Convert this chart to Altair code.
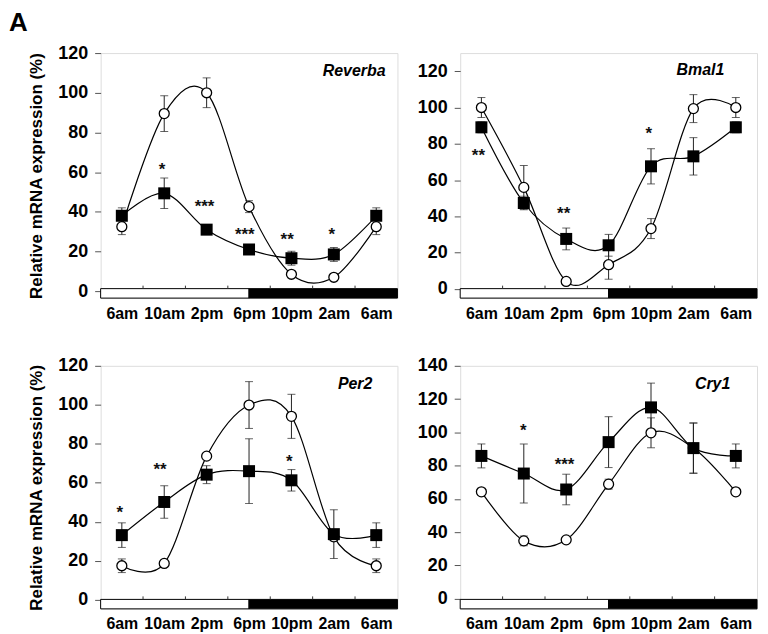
import json
import altair as alt
import pandas as pd

FONT = "Liberation Sans"

times = ["6am", "10am", "2pm", "6pm", "10pm", "2am", "6am"]
genes = ["Reverba", "Bmal1", "Per2", "Cry1"]

# open circles / filled squares, mean and error
reverba_open = [32.5, 89.5, 100, 42.6, 8.5, 7, 32.5]
reverba_open_err = [4, 9, 7.5, 3, 1, 1, 4]
reverba_fill = [38, 49.3, 31, 21, 16.6, 18.5, 38]
reverba_fill_err = [4, 7.7, 1.5, 2, 3.5, 3.5, 4]

bmal1_open = [100, 56, 4.2, 13.4, 33.3, 99.4, 100]
bmal1_open_err = [5.5, 12, 1, 8, 5.5, 7.7, 5.5]
bmal1_fill = [89.1, 47.4, 27.6, 24.1, 67.6, 73.1, 89.1]
bmal1_fill_err = [3, 3.7, 6, 6, 9.7, 10.3, 3]

per2_open = [17.5, 18.7, 73.7, 99.9, 94.1, 32.3, 17.5]
per2_open_err = [3.5, 1, 1, 12, 11.3, 2, 3.5]
per2_fill = [33.2, 50.2, 64.2, 66, 61.3, 33.7, 33.2]
per2_fill_err = [6.3, 8.3, 4.6, 16.6, 5.5, 12.5, 6.3]

cry1_open = [64.2, 34.7, 35.3, 68.8, 99.7, 90.5, 64.2]
cry1_open_err = [1, 3, 1, 3, 9, 15, 1]
cry1_fill = [85.8, 75.2, 65.6, 94.1, 115, 90.5, 85.8]
cry1_fill_err = [7.2, 17.7, 9.2, 15.3, 14.6, 15.2, 7.2]

# significance marks (label, time position, value)
reverba_sig = ["*", "***", "***", "**", "*"]
reverba_sig_x = [1.45, 2.45, 3.4, 4.4, 5.45]
reverba_sig_y = [63, 44.6, 30.5, 27.6, 30.5]
bmal1_sig = ["**", "**", "*"]
bmal1_sig_x = [0.43, 2.44, 4.45]
bmal1_sig_y = [75.3, 43.5, 87.8]
per2_sig = ["*", "**", "*"]
per2_sig_x = [0.45, 1.4, 4.45]
per2_sig_y = [46.8, 68.6, 72.7]
cry1_sig = ["*", "***"]
cry1_sig_x = [1.49, 2.46]
cry1_sig_y = [103, 82.8]

# light / dark phases along the time axis
phase_start = [0, 3.5]
phase_end = [3.5, 7]
phase_fill = ["white", "black"]

y_ticks_120 = [0, 20, 40, 60, 80, 100, 120]
y_ticks_140 = [0, 20, 40, 60, 80, 100, 120, 140]

W = 298


def panel(gene, ov, oe, fv, fe, sig, sx, sy, ymin, ymax, yticks, H, gx, gy, left, letter=False):
    pos = [i + 0.5 for i in range(len(times))]
    rows = []
    for i in range(len(times)):
        rows.append(dict(t=pos[i], s="open", v=ov[i], lo=ov[i] - oe[i], hi=ov[i] + oe[i]))
        rows.append(dict(t=pos[i], s="fill", v=fv[i], lo=fv[i] - fe[i], hi=fv[i] + fe[i]))
    df = pd.DataFrame(rows)
    per_px = (ymax - ymin) / H
    bar_top = ymin + 9.5 * per_px
    bar = pd.DataFrame(dict(x0=phase_start, x1=phase_end, f=phase_fill,
                            b0=[ymin, ymin], b1=[bar_top, bar_top]))
    tk = pd.DataFrame(dict(x=[1, 2, 3, 4, 5, 6], y0=[bar_top] * 6, y1=[bar_top + 3 * per_px] * 6))
    stars = pd.DataFrame(dict(x=sx, y=sy, s=sig))
    gdf = pd.DataFrame(dict(x=[gx], y=[gy], g=[gene]))

    xs = alt.Scale(domain=[0, 7], nice=False, zero=False)
    ys = alt.Scale(domain=[ymin, ymax], nice=False, zero=False)
    label_expr = "%s[floor(datum.value)]" % json.dumps(times)
    xaxis = alt.Axis(values=pos, labelExpr=label_expr, ticks=False, tickSize=0, domain=False,
                     grid=False, labelPadding=7, labelFontSize=16, labelFontWeight="bold",
                     labelFont=FONT, labelColor="black")
    yargs = dict(values=yticks, grid=False, domain=False, tickColor="#555", tickSize=6,
                 labelPadding=7, labelFontSize=18, labelFontWeight="bold", labelFont=FONT,
                 labelColor="black", titleFontSize=17, titleFontWeight="bold", titleFont=FONT,
                 titlePadding=12, titleColor="black")
    yaxis = alt.Axis(**yargs)

    def X(f):
        return alt.X(f, type="quantitative", scale=xs, axis=xaxis, title=None)

    def Y(f):
        if left:
            return alt.Y(f, type="quantitative", scale=ys, axis=yaxis,
                         title="Relative mRNA expression (%)")
        return alt.Y(f, type="quantitative", scale=ys, axis=yaxis, title=None)

    base = alt.Chart(df)
    lines = base.mark_line(interpolate="cardinal", color="black", strokeWidth=1.2).encode(
        x=X("t"), y=Y("v"), detail="s:N")
    bars = alt.Chart(bar).mark_rect(stroke="black", strokeWidth=1).encode(
        x=X("x0"), x2="x1", y=Y("b0"), y2="b1",
        fill=alt.Fill("f:N", scale=None))
    ticks = alt.Chart(tk).mark_rule(color="#333", strokeWidth=1).encode(
        x=X("x"), y=Y("y0"), y2="y1")
    err = base.mark_rule(color="#222", strokeWidth=1).encode(x=X("t"), y=Y("lo"), y2="hi")
    cap_lo = base.mark_tick(orient="horizontal", size=8, thickness=1, color="#222").encode(
        x=X("t"), y=Y("lo"))
    cap_hi = base.mark_tick(orient="horizontal", size=8, thickness=1, color="#222").encode(
        x=X("t"), y=Y("hi"))
    opens = base.transform_filter(alt.datum.s == "open").mark_point(
        shape="circle", filled=True, fill="white", stroke="black", strokeWidth=1.3,
        size=100, opacity=1).encode(x=X("t"), y=Y("v"))
    fills = base.transform_filter(alt.datum.s == "fill").mark_point(
        shape="square", filled=True, color="black", size=145, opacity=1).encode(
        x=X("t"), y=Y("v"))
    star = alt.Chart(stars).mark_text(fontSize=17, fontWeight="bold", font=FONT,
                                      baseline="middle", dy=4, color="#111").encode(
        x=X("x"), y=Y("y"), text="s:N")
    gtxt = alt.Chart(gdf).mark_text(fontSize=16, fontWeight="bold", fontStyle="italic",
                                    font=FONT, align="right", baseline="alphabetic",
                                    color="black").encode(x=X("x"), y=Y("y"), text="g:N")
    layers = [lines, bars, ticks, err, cap_lo, cap_hi, opens, fills, star, gtxt]
    if letter:
        adf = pd.DataFrame(dict(a=["A"]))
        layers.append(alt.Chart(adf).mark_text(fontSize=26, fontWeight="bold", font=FONT,
                                               align="left", baseline="alphabetic",
                                               color="black").encode(
            x=alt.value(-92), y=alt.value(-22), text="a:N"))
    return alt.layer(*layers).properties(width=W, height=H)


p1 = panel(genes[0], reverba_open, reverba_open_err, reverba_fill, reverba_fill_err,
           reverba_sig, reverba_sig_x, reverba_sig_y, -3.5, 120, y_ticks_120, 246,
           6.72, 108.3, True, letter=True)
p2 = panel(genes[1], bmal1_open, bmal1_open_err, bmal1_fill, bmal1_fill_err,
           bmal1_sig, bmal1_sig_x, bmal1_sig_y, -5, 130, y_ticks_120, 246,
           6.23, 117.9, False)
p3 = panel(genes[2], per2_open, per2_open_err, per2_fill, per2_fill_err,
           per2_sig, per2_sig_x, per2_sig_y, -4.6, 120, y_ticks_120, 244,
           6.41, 108.3, True)
p4 = panel(genes[3], cry1_open, cry1_open_err, cry1_fill, cry1_fill_err,
           cry1_sig, cry1_sig_x, cry1_sig_y, -6.2, 140, y_ticks_140, 244,
           6.37, 126.2, False)

chart = alt.concat(p1, p2, p3, p4, columns=2, spacing={"row": 68, "column": 63},
                   bounds="flush").properties(
    padding={"left": 0, "top": 0, "right": 2, "bottom": 2}
).configure_view(stroke="#555", strokeWidth=1.2).configure(background="white")

chart.save("out.html", embed_options={"renderer": "svg", "actions": False})
